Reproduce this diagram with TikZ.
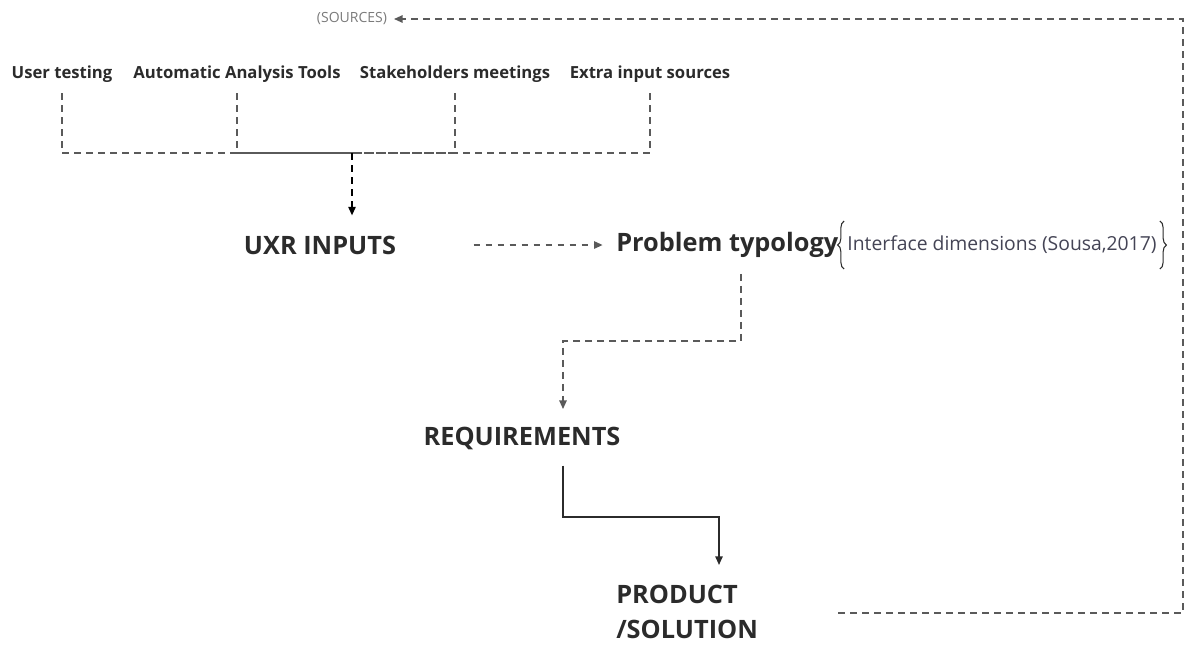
\documentclass[tikz,border=0pt]{standalone}
\usepackage{fontspec}
\setmainfont{Open Sans}
\usetikzlibrary{arrows.meta,decorations.pathreplacing,calc}
\definecolor{txt}{HTML}{2B2B2B}
\definecolor{ln}{HTML}{5A5A5A}
\definecolor{src}{HTML}{7A7A7A}
\definecolor{dimc}{HTML}{444455}
\begin{document}
\begin{tikzpicture}[x=0.75pt,y=-0.75pt,
  lbl/.style={font=\fontsize{12.5}{14}\selectfont\bfseries, text=txt, inner sep=0pt},
  big/.style={font=\fontsize{19}{26.5}\selectfont\bfseries, text=txt, inner sep=0pt},
  dsh/.style={draw=ln, line width=1.3pt, dash pattern=on 5pt off 4pt},
  sol/.style={draw=txt, line width=1.2pt},
  tip/.style={-{Triangle[length=6.5pt,width=5.5pt]}},
  brc/.style={draw=txt, line width=0.8pt, decorate, decoration={brace, amplitude=5pt}}]
\useasboundingbox (0,0) rectangle (1194,644);
% nodes
\node[font=\fontsize{10.5}{12}\selectfont, text=src, inner sep=0pt] (sources) at (352,19) {(SOURCES)};
\node[lbl] (ut) at (62,74) {User testing};
\node[lbl] (aat) at (237,74) {Automatic Analysis Tools};
\node[lbl] (sm) at (455,74) {Stakeholders meetings};
\node[lbl] (eis) at (650,74) {Extra input sources};
\node[big] (uxr) at (320,245) {UXR INPUTS};
\node[big, anchor=west] (prob) at (616,245) {Problem typology};
\node[font=\fontsize{14.5}{16}\selectfont, text=dimc, inner sep=0pt] (dim) at (1002,245) {Interface dimensions (Sousa,2017)};
\node[big] (req) at (522,438) {REQUIREMENTS};
\node[big, align=left, anchor=north west] (prod) at (616,585) {PRODUCT\\/SOLUTION};
% braces
\draw[brc] ($(dim.west)+(-3,24)$) -- ($(dim.west)+(-3,-24)$);
\draw[brc] ($(dim.east)+(3,-24)$) -- ($(dim.east)+(3,24)$);
% coordinates
\coordinate (j) at (352,153);
\coordinate (b1) at (741,341);
\coordinate (b2) at (563,341);
\coordinate (c1) at (563,517);
\coordinate (c2) at (719,517);
\coordinate (r1) at (1183,613);
% sources bus
\draw[dsh, shorten <=8pt] (ut.south) |- (j);
\draw[dsh, shorten <=8pt] (aat.south) |- (j);
\draw[dsh, shorten <=8pt] (sm.south) |- (j);
\draw[dsh, shorten <=8pt] (eis.south) |- (j);
\draw[dsh, draw=black, tip, shorten >=15pt] (j) -- (uxr.north -| j);
% flow
\draw[dsh, tip, shorten <=58pt, shorten >=10pt] (uxr.east) -- (prob.west);
\draw[dsh, tip, shorten <=12pt, shorten >=13pt] (prob.south -| b1) -- (b1) -- (b2) -- (req.north -| b2);
\draw[sol, tip, shorten <=12pt, shorten >=15pt] (req.south -| c1) -- (c1) -- (c2) -- (prod.north -| c2);
\draw[dsh, tip, shorten <=60pt, shorten >=5pt] (prod.east |- r1) -- (r1) -- (r1 |- sources) -- (sources.east);
\end{tikzpicture}
\end{document}
